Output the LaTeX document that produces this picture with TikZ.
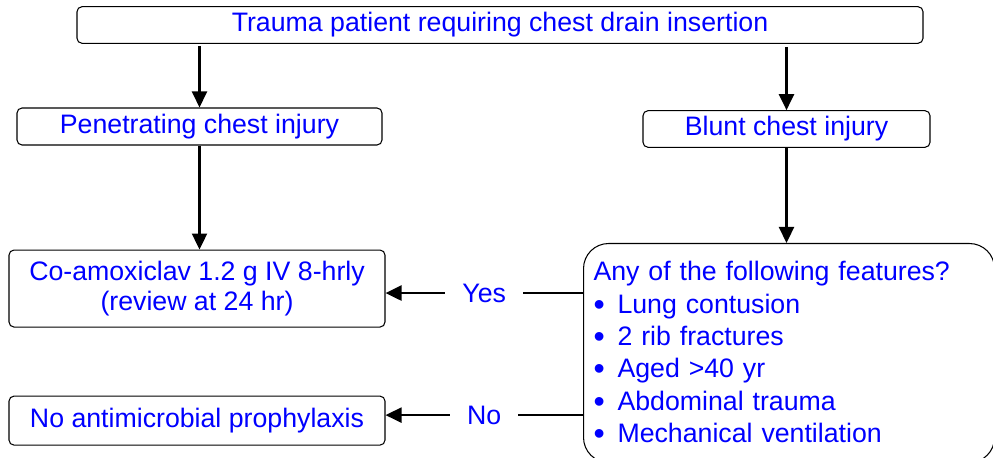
\documentclass[tikz,border=0pt]{standalone}
\usepackage{fontspec}
\setmainfont{Liberation Sans}
\usepackage{tikz}
\usetikzlibrary{arrows.meta, positioning, calc}
\definecolor{txtblue}{RGB}{0,0,255}

\begin{document}
\begin{tikzpicture}[
  box/.style={rectangle, draw, line width=0.6pt, rounded corners=0.1cm, minimum height=0.74cm, align=center, text=txtblue, font=\fontsize{15.2}{17.6}\selectfont},
  listbox/.style={rectangle, draw, line width=0.6pt, rounded corners=0.5cm, anchor=north west, text width=7.82cm, inner xsep=0.2cm, minimum height=4.38cm, align=left, text=txtblue, font=\fontsize{15.2}{18.4}\selectfont},
  arrow/.style={-{Triangle[length=0.32cm, width=0.3cm]}, line width=1.3pt},
  answer/.style={fill=white, inner xsep=0.34cm, text=txtblue, font=\fontsize{15.2}{18}\selectfont},
]
\clip (0,0) rectangle (19.86,-9.16);

% Entrada
\node[box, minimum width=16.92cm, minimum height=0.72cm] (trauma) at (10,-0.5) {Trauma patient requiring chest drain insertion};

% Tipo de lesao
\node[box, minimum width=7.3cm] (penetrating) at (3.99,-2.53) {Penetrating chest injury};
\node[box, minimum width=5.74cm, minimum height=0.72cm] (blunt) at (15.73,-2.58) {Blunt chest injury};

% Tratamento
\node[box, minimum width=7.52cm, minimum height=1.54cm, below=2.08cm of penetrating, xshift=-0.05cm] (coamox) {Co-amoxiclav 1.2 g IV 8-hrly\\(review at 24 hr)};
\node[box, minimum width=7.52cm, minimum height=0.98cm, below=1.36cm of coamox] (noabx) {No antimicrobial prophylaxis};

% Criterios
\node[listbox] (features) at (11.66,-4.86) {Any of the following features?\\
\makebox[0.48cm][l]{\raisebox{-0.07em}{\scalebox{1.2}{\textbullet}}}Lung contusion\\
\makebox[0.48cm][l]{\raisebox{-0.07em}{\scalebox{1.2}{\textbullet}}}2 rib fractures\\
\makebox[0.48cm][l]{\raisebox{-0.07em}{\scalebox{1.2}{\textbullet}}}Aged >40 yr\\
\makebox[0.48cm][l]{\raisebox{-0.07em}{\scalebox{1.2}{\textbullet}}}Abdominal trauma\\
\makebox[0.48cm][l]{\raisebox{-0.07em}{\scalebox{1.2}{\textbullet}}}Mechanical ventilation};

% Setas
\draw[arrow] (penetrating.north |- trauma.south) ++(0,-0.04) -- (penetrating.north);
\draw[arrow] (blunt.north |- trauma.south) ++(0,-0.06) -- (blunt.north);
\draw[arrow] (penetrating.south) -- (penetrating.south |- coamox.north);
\draw[arrow] (blunt.south) -- (blunt.south |- features.north);
\draw[arrow] (features.west |- coamox.east) ++(0,-0.09) -- node[answer] {Yes} ([yshift=-0.09cm]coamox.east);
\draw[arrow] (features.west |- noabx.east) ++(0,0.11) -- node[answer] {No} ([yshift=0.11cm]noabx.east);

\end{tikzpicture}
\end{document}
